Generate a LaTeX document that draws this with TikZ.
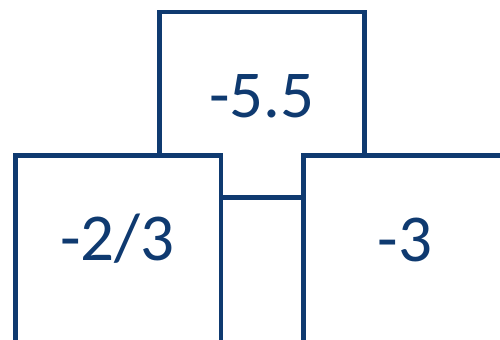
\documentclass[tikz,border=0pt]{standalone}
\usepackage{fontspec}
\setmainfont{Carlito}
\definecolor{boxblue}{RGB}{15,58,112}
\begin{document}
\begin{tikzpicture}[x=1bp,y=-1bp,
  boxline/.style={draw=boxblue,line width=4.4bp,fill=white},
  val/.style={text=boxblue,font=\fontsize{67bp}{72bp}\selectfont,inner sep=0pt,anchor=base}]
\useasboundingbox (0,0) rectangle (500,339);
\clip (0,0) rectangle (500,339);
\draw[boxline] (159.5,11.7) rectangle (364.3,197.3);
\draw[boxline] (15.3,155.5) rectangle (220.7,380);
\draw[boxline] (303.3,155.5) rectangle (540,380);
\node[val] (top) at (262,117) {-5.5};
\node[val] (left) at (117.5,260.5) {-2/3};
\node[val] (right) at (405,261) {-3};
\end{tikzpicture}
\end{document}
